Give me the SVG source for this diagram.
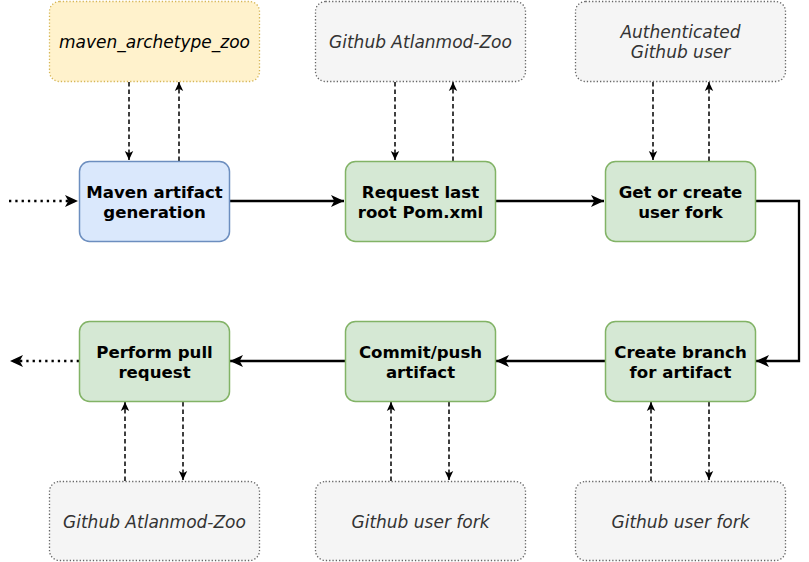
<svg xmlns="http://www.w3.org/2000/svg" width="809" height="562" viewBox="0 0 809 562">
<defs>
<style>
.src{fill:#f5f5f5;stroke:#666666;stroke-width:1.3;stroke-dasharray:1.3 2}
.mvn{fill:#fff2cc;stroke:#d6b656;stroke-width:1.3;stroke-dasharray:1.3 2}
.blue{fill:#dae8fc;stroke:#6c8ebf;stroke-width:1.5}
.green{fill:#d5e8d4;stroke:#82b366;stroke-width:1.5}
.it{font-family:"DejaVu Sans",Verdana,sans-serif;font-size:17px;font-style:italic;fill:#333333;text-anchor:middle}
.itb{font-family:"DejaVu Sans",Verdana,sans-serif;font-size:17px;font-style:italic;fill:#000000;text-anchor:middle}
.bd{font-family:"DejaVu Sans",Verdana,sans-serif;font-size:16.6px;font-weight:bold;fill:#000000;text-anchor:middle}
.dash{fill:none;stroke:#000;stroke-width:1.5;stroke-dasharray:4.5 3;marker-end:url(#sm)}
.main{fill:none;stroke:#000;stroke-width:2.3;marker-end:url(#lg)}
.dot{fill:none;stroke:#000;stroke-width:2.3;stroke-dasharray:2.3 4;marker-end:url(#lg)}
</style>
<marker id="sm" markerUnits="userSpaceOnUse" markerWidth="12" markerHeight="12" viewBox="0 0 12 12" refX="10" refY="6" orient="auto">
<path d="M10,6 L1,1.8 L3.3,6 L1,10.2 Z" fill="#000"/>
</marker>
<marker id="lg" markerUnits="userSpaceOnUse" markerWidth="16" markerHeight="16" viewBox="0 0 16 16" refX="14" refY="8" orient="auto">
<path d="M14,8 L1,2 L4.3,8 L1,14 Z" fill="#000"/>
</marker>
</defs>

<g id="connectors">
<path class="dot" d="M9,201 L78,201"/>
<path class="main" d="M230,201 L344,201"/>
<path class="main" d="M496,201 L604,201"/>
<path class="main" d="M756,201 L799,201 L799,361 L756,361"/>
<path class="main" d="M605,361 L496,361"/>
<path class="main" d="M345,361 L230,361"/>
<path class="dot" d="M79,361 L10,361"/>
<path class="dash" d="M129,82 L129,160"/>
<path class="dash" d="M179,161 L179,82"/>
<path class="dash" d="M395,82 L395,160"/>
<path class="dash" d="M453,161 L453,82"/>
<path class="dash" d="M653,82 L653,160"/>
<path class="dash" d="M709,161 L709,82"/>
<path class="dash" d="M125,481 L125,402"/>
<path class="dash" d="M183,402 L183,480"/>
<path class="dash" d="M391,481 L391,402"/>
<path class="dash" d="M449,402 L449,480"/>
<path class="dash" d="M651,481 L651,402"/>
<path class="dash" d="M709,402 L709,480"/>
</g>

<g id="maven_zoo"><rect class="mvn" x="49.5" y="1.5" width="210" height="80" rx="10"/><text class="itb" x="154.5" y="47.5">maven_archetype_zoo</text></g>
<g id="atlanmod_top"><rect class="src" x="315.5" y="1.5" width="210" height="80" rx="10"/><text class="it" x="420.5" y="47.5">Github Atlanmod-Zoo</text></g>
<g id="auth_user"><rect class="src" x="575.5" y="1.5" width="210" height="80" rx="10"/><text class="it" x="680.5" y="37.5">Authenticated</text><text class="it" x="680.5" y="57.5">Github user</text></g>

<g id="maven_gen"><rect class="blue" x="79.5" y="161.5" width="150" height="80" rx="10"/><text class="bd" x="154.5" y="197.5">Maven artifact</text><text class="bd" x="154.5" y="217.5">generation</text></g>
<g id="request_pom"><rect class="green" x="345.5" y="161.5" width="150" height="80" rx="10"/><text class="bd" x="420.5" y="197.5">Request last</text><text class="bd" x="420.5" y="217.5">root Pom.xml</text></g>
<g id="get_fork"><rect class="green" x="605.5" y="161.5" width="150" height="80" rx="10"/><text class="bd" x="680.5" y="197.5">Get or create</text><text class="bd" x="680.5" y="217.5">user fork</text></g>

<g id="pull_request"><rect class="green" x="79.5" y="321.5" width="150" height="80" rx="10"/><text class="bd" x="154.5" y="357.5">Perform pull</text><text class="bd" x="154.5" y="377.5">request</text></g>
<g id="commit_push"><rect class="green" x="345.5" y="321.5" width="150" height="80" rx="10"/><text class="bd" x="420.5" y="357.5">Commit/push</text><text class="bd" x="420.5" y="377.5">artifact</text></g>
<g id="create_branch"><rect class="green" x="605.5" y="321.5" width="150" height="80" rx="10"/><text class="bd" x="680.5" y="357.5">Create branch</text><text class="bd" x="680.5" y="377.5">for artifact</text></g>

<g id="atlanmod_bottom"><rect class="src" x="49.5" y="481.5" width="210" height="79" rx="10"/><text class="it" x="154.5" y="527.5">Github Atlanmod-Zoo</text></g>
<g id="fork_mid"><rect class="src" x="315.5" y="481.5" width="210" height="79" rx="10"/><text class="it" x="420.5" y="527.5">Github user fork</text></g>
<g id="fork_right"><rect class="src" x="575.5" y="481.5" width="210" height="79" rx="10"/><text class="it" x="680.5" y="527.5">Github user fork</text></g>
</svg>
